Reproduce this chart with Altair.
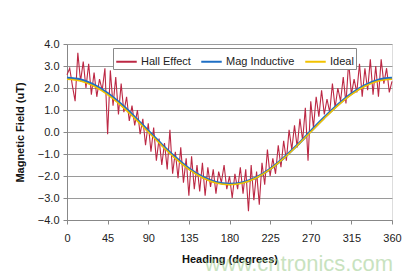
import altair as alt
import pandas as pd

# ---- data ----
hall_deg = list(range(0, 361, 3))
hall_val = [2.6, 2.9, 2.1, 1.4, 3.6, 2.3, 3.2, 2.0, 3.1, 1.7,
            2.7, 1.6, 2.4, 1.9, 2.9, -0.1, 2.8, 1.2, 2.5, 0.8,
            2.2, 0.9, 1.6, 0.5, 1.2, 0.3, 1.0, -0.1, 0.6, -0.6,
            0.4, -0.9, 0.2, -1.3, -0.3, -1.5, -0.5, -1.7, 0.1, -1.9,
            -0.9, -2.1, -0.7, -2.3, -1.2, -2.9, -1.1, -2.6, -1.5, -2.7,
            -1.4, -2.9, -1.6, -2.5, -1.7, -2.8, -1.8, -2.3, -1.5, -2.6,
            -2.0, -3.0, -1.9, -2.6, -1.6, -2.8, -1.7, -3.6, -1.5, -3.1,
            -1.8, -3.3, -1.4, -2.4, -0.8, -2.0, -1.2, -1.9, -0.6, -1.6,
            -0.4, -1.3, 0.1, -0.8, 0.3, -0.7, 0.6, -0.4, 1.1, -1.3,
            1.4, 0.2, 1.6, 0.7, 1.9, 0.8, 1.5, 0.9, 2.2, 1.1,
            2.0, 1.4, 2.5, 1.3, 3.2, 1.7, 2.4, 1.8, 3.1, 1.6,
            2.9, 1.9, 3.3, 1.7, 3.0, 1.6, 3.3, 2.2, 2.9, 1.8, 2.3]

smooth_deg = list(range(0, 361, 15))
mag_val = [2.45, 2.38, 2.14, 1.76, 1.26, 0.68, 0.05, -0.57, -1.15, -1.66,
           -2.04, -2.28, -2.36, -2.29, -2.06, -1.68, -1.18, -0.60, 0.04,
           0.66, 1.24, 1.74, 2.12, 2.37, 2.45]
ideal_val = [2.40, 2.32, 2.08, 1.70, 1.20, 0.62, 0.00, -0.62, -1.20, -1.70,
             -2.08, -2.32, -2.40, -2.32, -2.08, -1.70, -1.20, -0.62, 0.00,
             0.62, 1.20, 1.70, 2.08, 2.32, 2.40]

series_names = ["Hall Effect", "Mag Inductive", "Ideal"]
series_colors = ["#BC2844", "#1F6FC4", "#F2C200"]
x_ticks = [0, 45, 90, 135, 180, 225, 270, 315, 360]
y_ticks = [-4, -3, -2, -1, 0, 1, 2, 3, 4]

rows = []
for d, v in zip(hall_deg, hall_val):
    rows.append({"deg": d, "val": v, "series": "Hall Effect"})
for d, v in zip(smooth_deg, mag_val):
    rows.append({"deg": d, "val": v, "series": "Mag Inductive"})
for d, v in zip(smooth_deg, ideal_val):
    rows.append({"deg": d, "val": v, "series": "Ideal"})
df = pd.DataFrame(rows)

FONT = "Liberation Sans"

x_enc = alt.X("deg:Q", scale=alt.Scale(domain=[0, 360], nice=False),
              axis=alt.Axis(values=x_ticks, title="Heading (degrees)", grid=False,
                            labelFontSize=11, titleFontSize=11, titleFontWeight="bold",
                            labelFont=FONT, titleFont=FONT, labelColor="#222",
                            titleColor="#111", domainColor="#888", tickColor="#888",
                            tickSize=4, labelPadding=8, titlePadding=10,
                            labelFlush=False, labelOverlap=False))
y_enc = alt.Y("val:Q", scale=alt.Scale(domain=[-4, 4], nice=False),
              axis=alt.Axis(values=y_ticks, format=".1f", title="Magnetic Field (uT)",
                            grid=True, gridColor="#9a9a9a", gridWidth=1,
                            labelFontSize=11, titleFontSize=11, titleFontWeight="bold",
                            labelFont=FONT, titleFont=FONT, labelColor="#222",
                            titleColor="#111", domainColor="#888", tickColor="#888",
                            tickSize=4, labelPadding=4, titlePadding=12,
                            labelFlush=False, labelOverlap=False))
color_enc = alt.Color("series:N",
                      scale=alt.Scale(domain=series_names, range=series_colors),
                      sort=series_names,
                      legend=alt.Legend(title=None, orient="none", direction="horizontal",
                                        legendX=46, legendY=4, symbolType="stroke",
                                        symbolSize=420, symbolStrokeWidth=2,
                                        labelFontSize=11, labelFont=FONT, labelColor="#222",
                                        strokeColor="#888", fillColor="white",
                                        padding=2, columnPadding=6, labelOffset=3))

def layer(name, width):
    return alt.Chart(df).transform_filter(alt.datum.series == name).mark_line(
        strokeWidth=width, interpolate="monotone" if name != "Hall Effect" else "linear"
    ).encode(x=x_enc, y=y_enc, color=color_enc, order="deg:Q")

watermark = alt.Chart(pd.DataFrame({"t": ["www.cntronics.com"]})).mark_text(
    align="right", baseline="middle", fontSize=22, font=FONT, color="#9ccc8c", opacity=0.55
).encode(x=alt.value(326), y=alt.value(220), text="t:N")

chart = alt.layer(
    layer("Hall Effect", 1.1),
    layer("Mag Inductive", 2.5),
    layer("Ideal", 1.5),
    watermark,
).properties(
    width=325, height=176,
    autosize=alt.AutoSizeParams(type="none"),
    padding={"left": 67, "top": 44, "right": 21, "bottom": 59},
).configure_view(stroke="#888", strokeWidth=1).configure(background="white")

chart.save("out.html", embed_options={"renderer": "svg", "actions": False})
